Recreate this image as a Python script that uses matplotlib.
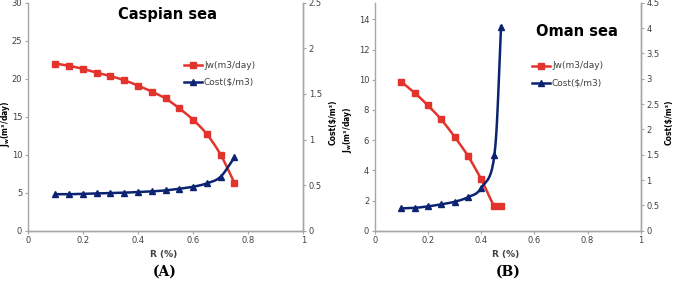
import numpy as np
import matplotlib.pyplot as plt

# Caspian sea
r_casp = [0.1, 0.15, 0.2, 0.25, 0.3, 0.35, 0.4, 0.45, 0.5, 0.55, 0.6, 0.65, 0.7, 0.75]
jw_casp = [22.0, 21.7, 21.3, 20.8, 20.35, 19.8, 19.1, 18.3, 17.4, 16.1, 14.6, 12.7, 10.0, 6.3]
cost_casp = [0.40, 0.40, 0.405, 0.41, 0.413, 0.417, 0.424, 0.431, 0.442, 0.46, 0.482, 0.519, 0.592, 0.804]

# Oman sea
r_oman = [0.1, 0.15, 0.2, 0.25, 0.3, 0.35, 0.4, 0.45, 0.475]
jw_oman = [9.87, 9.14, 8.30, 7.37, 6.23, 4.97, 3.42, 1.63, 1.65]
cost_oman = [0.44, 0.45, 0.48, 0.52, 0.57, 0.66, 0.84, 1.49, 4.03]

RED = '#E2332C'
NAVY = '#0B2370'
GRAY = '#A6A6A6'
TXT = '#404040'


def smooth(x, y, n=20):
    # Catmull-Rom curve through the points (drawing only, like Excel's smoothed line)
    x = np.asarray(x, float)
    y = np.asarray(y, float)
    px = np.concatenate([[2 * x[0] - x[1]], x, [2 * x[-1] - x[-2]]])
    py = np.concatenate([[2 * y[0] - y[1]], y, [2 * y[-1] - y[-2]]])
    xs, ys = [], []
    t = np.linspace(0, 1, n)
    for i in range(1, len(px) - 2):
        for p, out in ((px, xs), (py, ys)):
            p0, p1, p2, p3 = p[i - 1], p[i], p[i + 1], p[i + 2]
            out.extend(0.5 * (2 * p1 + (-p0 + p2) * t
                              + (2 * p0 - 5 * p1 + 4 * p2 - p3) * t ** 2
                              + (-p0 + 3 * p1 - 3 * p2 + p3) * t ** 3))
    return xs, ys


def style(ax):
    for s in ['left', 'bottom', 'right']:
        ax.spines[s].set_color(GRAY)
        ax.spines[s].set_linewidth(1.0)
    ax.spines['top'].set_visible(False)
    ax.tick_params(colors=GRAY, labelcolor=TXT, labelsize=6, length=2.5, width=0.8, pad=1.5)


W, H = 676, 281
fig = plt.figure(figsize=(W / 100, H / 100), dpi=100)

# x0, x1, data, title, title pos, legend pos, tag, tag x, Jw label pos, Cost label pos
panels = [
    (27.7, 303.3, r_casp, jw_casp, cost_casp, 'Caspian sea', (168, 15), (184, 58), '(A)', 165,
     (6.0, 124), (333, 122)),
    (374.7, 640.7, r_oman, jw_oman, cost_oman, 'Oman sea', (577, 31), (532, 59), '(B)', 508,
     (347, 130), (669, 122)),
]

for (x0, x1, r, jw, cost, title, tpos, lpos, tag, tagx, jpos, cpos) in panels:
    top, bot = 2.7, 230.7
    ax = fig.add_axes([x0 / W, 1 - bot / H, (x1 - x0) / W, (bot - top) / H])
    ax2 = ax.twinx()
    style(ax)
    style(ax2)
    ax2.spines['left'].set_visible(False)

    sx, sy = smooth(r, jw)
    ax.plot(sx, sy, color=RED, lw=1.8)
    ax.plot(r, jw, color=RED, marker='s', ms=4, ls='none')
    sx, sy = smooth(r, cost)
    ax2.plot(sx, sy, color=NAVY, lw=1.8)
    ax2.plot(r, cost, color=NAVY, marker='^', ms=4, ls='none')

    ax.set_xlim(0, 1)
    ax.set_xticks(np.arange(0, 1.01, 0.2))
    ax.set_xticklabels(['0', '0.2', '0.4', '0.6', '0.8', '1'])
    if title.startswith('Oman'):
        ax.set_ylim(0, 14 * 684 / 634)
        ax.set_yticks(np.arange(0, 14.1, 2))
        y2max = 4.5
    else:
        ax.set_ylim(0, 30)
        ax.set_yticks(np.arange(0, 30.1, 5))
        y2max = 2.5
    ax2.set_ylim(0, y2max)
    ticks2 = np.arange(0, y2max + 0.01, 0.5)
    ax2.set_yticks(ticks2)
    ax2.set_yticklabels([f'{v:g}' for v in ticks2])

    fig.text(tpos[0] / W, 1 - tpos[1] / H, title, fontsize=10.5, fontweight='bold',
             ha='center', va='center', color='black')

    # legend entries
    for k, (lab, col, mk) in enumerate([('Jw(m3/day)', RED, 's'), ('Cost($/m3)', NAVY, '^')]):
        yy = 1 - (lpos[1] + 7 + k * 17) / H
        fig.lines.append(plt.Line2D([lpos[0] / W, (lpos[0] + 18) / W], [yy, yy],
                                    transform=fig.transFigure, color=col, lw=1.8))
        fig.lines.append(plt.Line2D([(lpos[0] + 9) / W], [yy], transform=fig.transFigure,
                                    color=col, marker=mk, ms=4, ls='none'))
        fig.text((lpos[0] + 20) / W, yy, lab, fontsize=6.5, color=TXT, va='center', ha='left')

    fig.text(jpos[0] / W, 1 - jpos[1] / H, r'$\mathbf{J_w}$(m³/day)', fontsize=5.5,
             fontweight='bold', rotation=90, ha='center', va='center', color='black')
    fig.text(cpos[0] / W, 1 - cpos[1] / H, 'Cost($/m³)', fontsize=5.5,
             fontweight='bold', rotation=90, ha='center', va='center', color='black')
    fig.text(((x0 + x1) / 2 - 2) / W, 1 - 254 / H, 'R (%)', fontsize=6.5, fontweight='bold',
             ha='center', va='center', color=TXT)
    fig.text(tagx / W, 1 - 272 / H, tag, fontsize=10, fontweight='bold', family='DejaVu Serif',
             ha='center', va='center', color='black')

fig.savefig('out.png', dpi=100)
